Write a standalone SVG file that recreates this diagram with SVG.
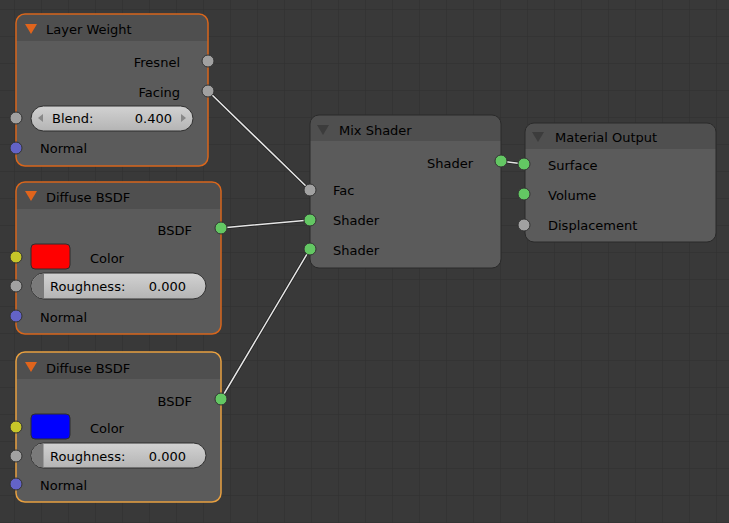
<svg xmlns="http://www.w3.org/2000/svg" width="729" height="523" viewBox="0 0 729 523">
<defs>
<pattern id="grid" x="14" y="9" width="27" height="27" patternUnits="userSpaceOnUse">
<path d="M0 0H27M0 0V27" stroke="#323232" stroke-width="1.5" fill="none"/>
</pattern>
<linearGradient id="fld" x1="0" y1="0" x2="0" y2="1"><stop offset="0" stop-color="#d2d2d2"/><stop offset="1" stop-color="#b4b4b4"/></linearGradient>
</defs>
<style>
text{font-family:"DejaVu Sans",sans-serif;font-size:13px;fill:#000}
.body{fill:#5b5b5b}
.hdr{fill:#4f4f4f}
.sel{stroke:#d8661c;stroke-width:1.5;fill:none}
.act{stroke:#e8a040;stroke-width:1.5;fill:none}
.dark{stroke:#2a2a2a;stroke-width:1;fill:none}
.g{fill:#a1a1a1;stroke:#333;stroke-width:1}
.gr{fill:#63c763;stroke:#333;stroke-width:1}
.y{fill:#c7c729;stroke:#333;stroke-width:1}
.b{fill:#6363c7;stroke:#333;stroke-width:1}
.fld{fill:url(#fld);stroke:#2e2e2e;stroke-width:1}
.link{stroke:#e6e6e6;stroke-width:1.5;fill:none}
.linkb{stroke:#222;stroke-width:3;fill:none}
</style>
<rect width="729" height="523" fill="#393939"/>
<rect width="729" height="523" fill="url(#grid)"/>
<g id="connectors">
<path class="linkb" d="M208 91L310 190M221 228L310 220M221 399L310 249M501 161L524 164"/>
<path class="link" d="M208 91L310 190M221 228L310 220M221 399L310 249M501 161L524 164"/>
</g>
<g id="layer-weight">
<rect x="16" y="14" width="192" height="152" rx="9" class="body"/>
<path d="M25 14H199A9 9 0 0 1 208 23V41H16V23A9 9 0 0 1 25 14Z" class="hdr"/>
<rect x="16" y="14" width="192" height="152" rx="9" class="sel"/>
<path d="M25 24H37L31 34Z" fill="#e0641c"/>
<text x="46" y="34">Layer Weight</text>
<text x="180" y="67" text-anchor="end">Fresnel</text>
<text x="180" y="97" text-anchor="end">Facing</text>
<rect x="31" y="106" width="162" height="25" rx="12.5" class="fld"/>
<path d="M43 114V122L38 118Z M181 114V122L186 118Z" fill="#888"/>
<text x="52" y="123">Blend:</text>
<text x="172" y="123" text-anchor="end">0.400</text>
<text x="40" y="153">Normal</text>
<circle cx="208" cy="61" r="6" class="g"/>
<circle cx="208" cy="91" r="6" class="g"/>
<circle cx="16" cy="118" r="6" class="g"/>
<circle cx="16" cy="148" r="6" class="b"/>
</g>
<g id="diffuse-1">
<rect x="16" y="182" width="205" height="152" rx="9" class="body"/>
<path d="M25 182H212A9 9 0 0 1 221 191V209H16V191A9 9 0 0 1 25 182Z" class="hdr"/>
<rect x="16" y="182" width="205" height="152" rx="9" class="sel"/>
<path d="M25 191H37L31 201Z" fill="#e0641c"/>
<text x="46" y="202">Diffuse BSDF</text>
<text x="192" y="235" text-anchor="end">BSDF</text>
<rect x="31" y="244" width="39" height="25" rx="4" fill="#ff0000" stroke="#2e2e2e"/>
<text x="90" y="263">Color</text>
<rect x="31" y="273" width="175" height="26" rx="13" class="fld"/>
<path d="M44 273.5A12.5 12.5 0 0 0 44 298.5Z" fill="#7a7a7a"/>
<text x="50" y="291">Roughness:</text>
<text x="186" y="291" text-anchor="end">0.000</text>
<text x="40" y="322">Normal</text>
<circle cx="221" cy="228" r="6" class="gr"/>
<circle cx="16" cy="257" r="6" class="y"/>
<circle cx="16" cy="286" r="6" class="g"/>
<circle cx="16" cy="316" r="6" class="b"/>
</g>
<g id="diffuse-2">
<rect x="16" y="352" width="205" height="150" rx="9" class="body"/>
<path d="M25 352H212A9 9 0 0 1 221 361V379H16V361A9 9 0 0 1 25 352Z" class="hdr"/>
<rect x="16" y="352" width="205" height="150" rx="9" class="act"/>
<path d="M25 362H37L31 372Z" fill="#e0641c"/>
<text x="46" y="373">Diffuse BSDF</text>
<text x="192" y="406" text-anchor="end">BSDF</text>
<rect x="31" y="414" width="39" height="25" rx="4" fill="#0000ff" stroke="#2e2e2e"/>
<text x="90" y="433">Color</text>
<rect x="31" y="443" width="175" height="25" rx="12.5" class="fld"/>
<path d="M43.5 443.5A12 12 0 0 0 43.5 467.5Z" fill="#7a7a7a"/>
<text x="50" y="461">Roughness:</text>
<text x="186" y="461" text-anchor="end">0.000</text>
<text x="40" y="490">Normal</text>
<circle cx="221" cy="399" r="6" class="gr"/>
<circle cx="16" cy="427" r="6" class="y"/>
<circle cx="16" cy="456" r="6" class="g"/>
<circle cx="16" cy="484" r="6" class="b"/>
</g>
<g id="mix-shader">
<rect x="310" y="115" width="191" height="153" rx="9" class="body"/>
<path d="M319 115H492A9 9 0 0 1 501 124V141H310V124A9 9 0 0 1 319 115Z" class="hdr"/>
<rect x="310" y="115" width="191" height="153" rx="9" class="dark"/>
<path d="M317 125H329L323 135Z" fill="#3c3c3c"/>
<text x="339" y="135">Mix Shader</text>
<text x="473" y="168" text-anchor="end">Shader</text>
<text x="333" y="195">Fac</text>
<text x="333" y="225">Shader</text>
<text x="333" y="255">Shader</text>
<circle cx="501" cy="161" r="6" class="gr"/>
<circle cx="310" cy="190" r="6" class="g"/>
<circle cx="310" cy="220" r="6" class="gr"/>
<circle cx="310" cy="249" r="6" class="gr"/>
</g>
<g id="material-output">
<rect x="525" y="123" width="191" height="119" rx="9" class="body"/>
<path d="M534 123H707A9 9 0 0 1 716 132V149H525V132A9 9 0 0 1 534 123Z" class="hdr"/>
<rect x="525" y="123" width="191" height="119" rx="9" class="dark"/>
<path d="M532 132H544L538 142Z" fill="#3c3c3c"/>
<text x="555" y="142">Material Output</text>
<text x="548" y="170">Surface</text>
<text x="548" y="200">Volume</text>
<text x="548" y="230">Displacement</text>
<circle cx="524" cy="164" r="6" class="gr"/>
<circle cx="524" cy="194" r="6" class="gr"/>
<circle cx="524" cy="225" r="6" class="g"/>
</g>
</svg>
